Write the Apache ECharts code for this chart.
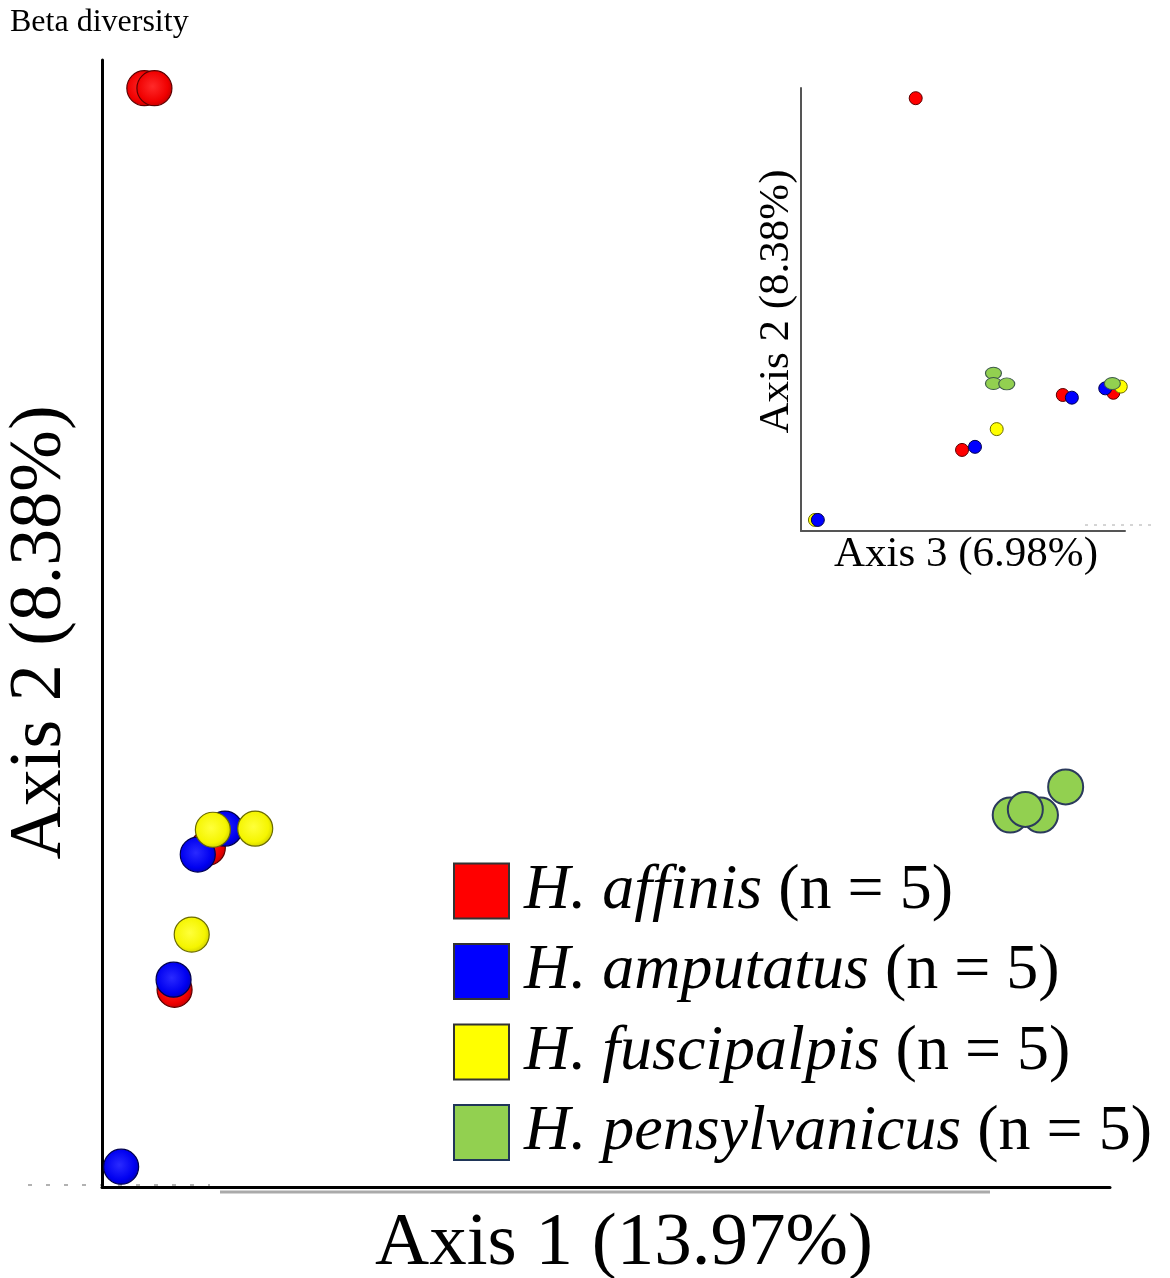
<!DOCTYPE html>
<html>
<head>
<meta charset="utf-8">
<title>Beta diversity</title>
<script src="https://cdn.jsdelivr.net/npm/echarts@6/dist/echarts.min.js"></script>
<style>
  html, body { margin: 0; padding: 0; background: #fff; }
  #chart { width: 1170px; height: 1278px; }
</style>
</head>
<body>
<div id="chart"></div>
<script>
// Species groups and sample counts
const species = ['H. affinis', 'H. amputatus', 'H. fuscipalpis', 'H. pensylvanicus'];
const sampleCounts = [5, 5, 5, 5];

// PCoA scores, Axis 1 (x) vs Axis 2 (y), scaled to 0–100
const affinisA12 = [[4.2, 97.5], [5.2, 97.5], [10.5, 30.1], [7.2, 17.5]];
const amputatusA12 = [[12.2, 31.8], [9.5, 29.5], [7.1, 18.4], [1.9, 1.8]];
const fuscipalpisA12 = [[11.0, 31.7], [15.2, 31.8], [8.9, 22.4]];
const pensylvanicusA12 = [[90.1, 33.0], [93.1, 33.0], [91.6, 33.5], [95.6, 35.5]];

// PCoA scores, Axis 3 (x) vs Axis 2 (y), scaled to 0–100
const affinisA32 = [[35.4, 97.7], [80.8, 30.7], [96.4, 31.2], [49.7, 18.3]];
const amputatusA32 = [[83.6, 30.1], [93.9, 32.2], [53.7, 19.0], [5.2, 2.5]];
const fuscipalpisA32 = [[98.7, 32.6], [60.4, 23.0], [4.3, 2.5]];
const pensylvanicusA32 = [[59.4, 35.6], [59.4, 33.3], [63.5, 33.2], [96.1, 33.3]];

const SERIF = '"Liberation Serif", "DejaVu Serif", serif';

// Shaded sphere fills for the main plot
function sphere(light, mid, dark) {
  return {
    type: 'radial', x: 0.45, y: 0.45, r: 0.6,
    colorStops: [
      { offset: 0, color: light },
      { offset: 0.7, color: mid },
      { offset: 1, color: dark }
    ]
  };
}
const palette = {
  'H. affinis':      { flat: '#ff0000', fill: sphere('#ff2a2a', '#f00000', '#b80000'), border: '#5c0000' },
  'H. amputatus':    { flat: '#0000ff', fill: sphere('#2a2aff', '#0000f0', '#0000b0'), border: '#00004d' },
  'H. fuscipalpis':  { flat: '#ffff00', fill: sphere('#ffff3a', '#f5f500', '#c8c800'), border: '#6b6b00' },
  'H. pensylvanicus':{ flat: '#92d050', fill: '#92d050', border: '#2b3a5c' }
};

const mainData = [affinisA12, amputatusA12, fuscipalpisA12, pensylvanicusA12];
const insetData = [affinisA32, amputatusA32, fuscipalpisA32, pensylvanicusA32];

const series = [];
species.forEach((name, i) => {
  const p = palette[name];
  series.push({
    name: name,
    type: 'scatter',
    xAxisIndex: 0, yAxisIndex: 0,
    data: mainData[i],
    symbol: 'circle',
    symbolSize: 35,
    z: 2 + i,
    itemStyle: {
      color: p.fill,
      borderColor: p.border,
      borderWidth: name === 'H. pensylvanicus' ? 2 : 1.2,
      opacity: 1
    },
    emphasis: { disabled: true }
  });
});
// inset: yellow drawn beneath blue
const insetOrder = [0, 2, 1, 3];
insetOrder.forEach((i, k) => {
  const name = species[i];
  const p = palette[name];
  const isGreen = name === 'H. pensylvanicus';
  series.push({
    name: name,
    type: 'scatter',
    xAxisIndex: 1, yAxisIndex: 1,
    data: insetData[i],
    symbol: 'circle',
    symbolSize: isGreen ? [16, 12] : 13,
    z: 2 + k,
    itemStyle: {
      color: p.flat,
      borderColor: isGreen ? '#3d5a4a' : p.border,
      borderWidth: 1,
      opacity: 1
    },
    emphasis: { disabled: true }
  });
});

function hiddenValueAxis(extra) {
  return Object.assign({
    type: 'value',
    min: 0, max: 100,
    splitLine: { show: false },
    axisTick: { show: false },
    axisLabel: { show: false }
  }, extra);
}

const option = {
  backgroundColor: '#ffffff',
  animation: false,
  title: {
    text: 'Beta diversity',
    left: 5, top: 2,
    textStyle: { fontFamily: SERIF, fontSize: 32, fontWeight: 'normal', color: '#000' }
  },
  grid: [
    { left: 102, top: 60, width: 1008, height: 1127, containLabel: false, outerBoundsMode: 'none' },
    { left: 801, top: 88, width: 324, height: 443, containLabel: false, outerBoundsMode: 'none' }
  ],
  xAxis: [
    hiddenValueAxis({
      gridIndex: 0,
      name: 'Axis 1 (13.97%)',
      nameLocation: 'middle',
      nameGap: 20,
      nameTextStyle: { fontFamily: SERIF, fontSize: 75, color: '#000', verticalAlign: 'top', padding: [0, 0, 0, 36] },
      axisLine: { show: true, onZero: false, lineStyle: { color: '#000', width: 3 } }
    }),
    hiddenValueAxis({
      gridIndex: 1,
      name: 'Axis 3 (6.98%)',
      nameLocation: 'middle',
      nameGap: 2,
      nameTextStyle: { fontFamily: SERIF, fontSize: 43, color: '#000', verticalAlign: 'top', padding: [0, 0, 0, 6] },
      axisLine: { show: true, onZero: false, lineStyle: { color: '#555', width: 2 } }
    })
  ],
  yAxis: [
    hiddenValueAxis({
      gridIndex: 0,
      name: 'Axis 2 (8.38%)',
      nameLocation: 'middle',
      nameGap: 24,
      nameTextStyle: { fontFamily: SERIF, fontSize: 74, color: '#000', padding: [0, 0, 0, -18] },
      axisLine: { show: true, onZero: false, lineStyle: { color: '#000', width: 3 } }
    }),
    hiddenValueAxis({
      gridIndex: 1,
      name: 'Axis 2 (8.38%)',
      nameLocation: 'middle',
      nameGap: 3,
      nameTextStyle: { fontFamily: SERIF, fontSize: 43, color: '#000', padding: [0, 0, 0, 16] },
      axisLine: { show: true, onZero: false, lineStyle: { color: '#555', width: 2 } }
    })
  ],
  legend: {
    orient: 'vertical',
    left: 453, top: 859,
    padding: 0,
    itemWidth: 55, itemHeight: 55,
    itemGap: 16.5,
    icon: 'rect',
    selectedMode: false,
    data: species.map(name => ({
      name: name,
      itemStyle: {
        color: palette[name].flat,
        borderColor: name === 'H. pensylvanicus' ? '#1f3558' : '#333',
        borderWidth: 2
      }
    })),
    formatter: function (name) {
      const n = sampleCounts[species.indexOf(name)];
      return '{sp|' + name + '} {n|(n = ' + n + ')}';
    },
    textStyle: {
      fontFamily: SERIF, fontSize: 64, color: '#000',
      rich: {
        sp: { fontFamily: SERIF, fontSize: 64, fontStyle: 'italic', color: '#000', lineHeight: 55, padding: [0, 0, 0, 10] },
        n: { fontFamily: SERIF, fontSize: 64, color: '#000', lineHeight: 55 }
      }
    }
  },
  graphic: [
    // shadow under the main Axis 1 line
    { type: 'line', shape: { x1: 220, y1: 1192, x2: 990, y2: 1192 }, style: { stroke: '#aaaaaa', lineWidth: 3 }, silent: true },
    // faint dotted remnants along the baselines
    { type: 'line', shape: { x1: 28, y1: 1185, x2: 210, y2: 1185 }, style: { stroke: '#999999', lineWidth: 1.5, lineDash: [4, 14] }, silent: true },
    { type: 'line', shape: { x1: 1085, y1: 525, x2: 1152, y2: 525 }, style: { stroke: '#aaaaaa', lineWidth: 1, lineDash: [3, 6] }, silent: true }
  ],
  series: series
};

const chart = echarts.init(document.getElementById('chart'), null, { renderer: 'canvas' });
chart.setOption(option);
</script>
</body>
</html>
